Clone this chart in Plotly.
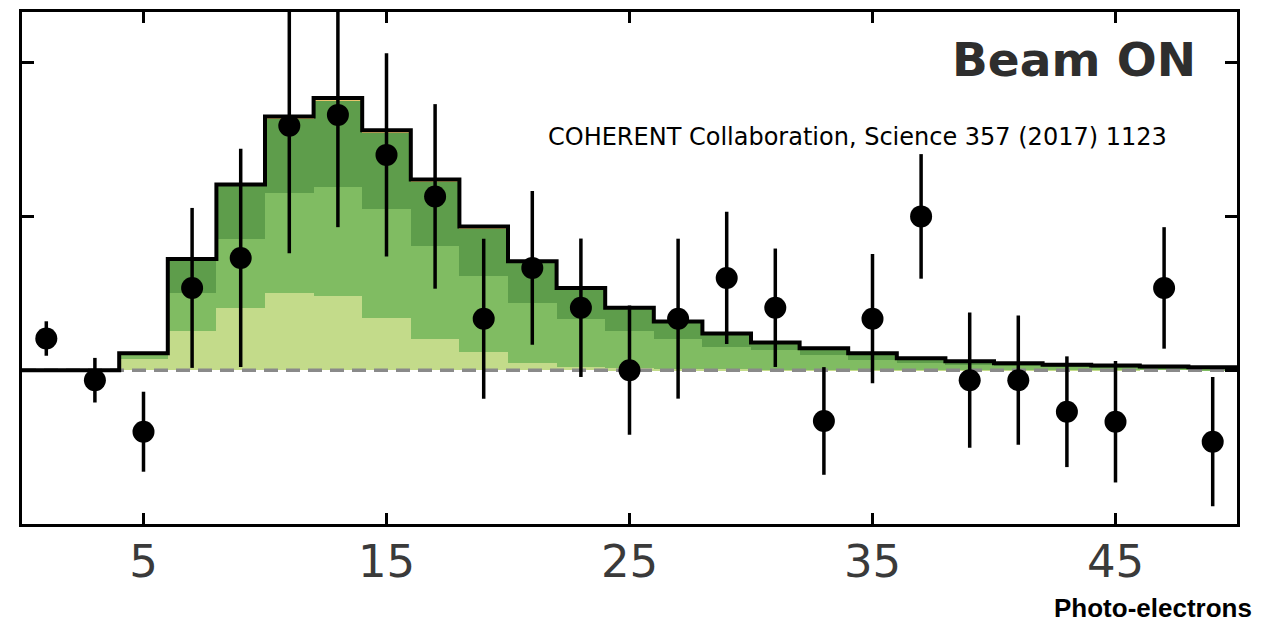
import plotly.graph_objects as go

# Photo-electron bins (width 2), centres 1..49
bin_centers = [1, 3, 5, 7, 9, 11, 13, 15, 17, 19, 21, 23, 25, 27, 29, 31, 33, 35, 37, 39, 41, 43, 45, 47, 49]
bin_edges = [0, 2, 4, 6, 8, 10, 12, 14, 16, 18, 20, 22, 24, 26, 28, 30, 32, 34, 36, 38, 40, 42, 44, 46, 48, 50]

# Stacked prediction components
comp_light = [0, 0, 0.75, 2.58, 4.06, 5.0, 4.84, 3.42, 2.06, 1.16, 0.45, 0.2, 0.12, 0.08, 0.05,
              0.04, 0.03, 0.02, 0.02, 0.01, 0.01, 0.01, 0.01, 0.0, 0.0]
comp_mid = [0, 0, 0.25, 2.45, 4.45, 6.5, 7.06, 7.03, 6.0, 4.97, 3.94, 3.15, 2.46, 1.98, 1.43,
            1.25, 0.94, 0.63, 0.45, 0.35, 0.27, 0.22, 0.18, 0.14, 0.11]
comp_dark = [0, 0, 0.1, 2.2, 3.56, 4.85, 5.6, 5.0, 4.2, 3.1, 2.6, 1.9, 1.4, 1.05, 0.87,
             0.5, 0.45, 0.45, 0.3, 0.22, 0.17, 0.13, 0.11, 0.1, 0.08]
comp_orange = [0, 0, 0, 0, 0, 0.15, 0.2, 0.15, 0.14, 0.12, 0.1, 0.1, 0.08, 0.05, 0.04,
               0.01, 0, 0, 0, 0, 0, 0, 0, 0, 0]

# Beam-on residual counts with statistical errors
obs_counts = [2.06, -0.65, -4.0, 5.35, 7.3, 15.9, 16.6, 14.0, 11.3, 3.35, 6.65, 4.06, 0.0, 3.35, 6.0,
              4.06, -3.3, 3.35, 10.0, -0.65, -0.65, -2.7, -3.35, 5.35, -4.65]
obs_errors = [1.12, 1.45, 2.6, 5.2, 7.1, 8.3, 7.3, 6.6, 6.0, 5.2, 5.0, 4.5, 4.2, 5.2, 4.3,
              3.85, 3.5, 4.2, 4.05, 4.4, 4.2, 3.6, 3.95, 3.95, 4.2]

x_ticks = [5, 15, 25, 35, 45]
y_ticks = [-10, 0, 10, 20]

fig = go.Figure()

layers = [
    (comp_light, "#c3db8a"),
    (comp_mid, "#80bc62"),
    (comp_dark, "#5e9d4b"),
    (comp_orange, "#e8c46c"),
]
for vals, col in layers:
    fig.add_trace(go.Bar(
        x=bin_centers, y=vals, width=2,
        marker=dict(color=col, line=dict(width=0)),
        showlegend=False, hoverinfo="skip",
    ))

# dashed zero baseline
fig.add_trace(go.Scatter(
    x=[bin_edges[0], bin_edges[-1]], y=[0, 0], mode="lines",
    line=dict(color="#8a8a8a", width=3.5, dash="14px,8px"),
    showlegend=False, hoverinfo="skip",
))

# total prediction as a step outline
totals = [a + b + c + d for a, b, c, d in zip(comp_light, comp_mid, comp_dark, comp_orange)]
fig.add_trace(go.Scatter(
    x=bin_edges, y=totals + [totals[-1]], mode="lines",
    line=dict(color="black", width=4, shape="hv"),
    showlegend=False, hoverinfo="skip",
))

# data points
fig.add_trace(go.Scatter(
    x=bin_centers, y=obs_counts, mode="markers",
    marker=dict(color="black", size=22),
    error_y=dict(type="data", array=obs_errors, thickness=3.5, width=0, color="black"),
    showlegend=False, hoverinfo="skip",
))

fig.add_annotation(
    x=43.3, y=20.2, xref="x", yref="y", text="<b>Beam ON</b>", showarrow=False,
    font=dict(family="DejaVu Sans", size=47, color="#2e2e2e"),
    xanchor="center", yanchor="middle",
)
fig.add_annotation(
    x=857, y=135, xref="paper", yref="paper", text="COHERENT Collaboration, Science 357 (2017) 1123",
    showarrow=False, font=dict(family="DejaVu Sans", size=24, color="black"),
    xanchor="center", yanchor="middle",
)
fig.add_annotation(
    x=1254, y=608, text="<b>Photo-electrons</b>", showarrow=False,
    font=dict(family="Liberation Sans", size=26, color="black"),
    xanchor="right", yanchor="middle",
)

W, H = 1265, 622
ml, mr, mt, mb = 22, 28, 9, 98
pw, ph = W - ml - mr, H - mt - mb


def px_to_paper(ann):
    # convert pixel positions to paper coordinates
    ann.x = (ann.x - ml) / pw
    ann.y = 1 - (ann.y - mt) / ph
    ann.xref = "paper"
    ann.yref = "paper"


for a in fig.layout.annotations[1:]:
    px_to_paper(a)

fig.update_layout(
    width=W, height=H,
    margin=dict(l=ml, r=mr, t=mt, b=mb),
    paper_bgcolor="white", plot_bgcolor="white",
    barmode="stack", bargap=0,
    showlegend=False,
)
fig.update_xaxes(
    range=[0, 50], tickvals=x_ticks, ticktext=[str(v) for v in x_ticks],
    ticks="inside", ticklen=11, tickwidth=2.5, tickcolor="black",
    showline=True, linecolor="black", linewidth=3, mirror="allticks",
    showgrid=False, zeroline=False,
    tickfont=dict(family="DejaVu Sans", size=45, color="#3a3a3a"),
    ticklabelstandoff=-4,
)
fig.update_yaxes(
    range=[-10, 23.29], tickvals=y_ticks, showticklabels=False,
    ticks="inside", ticklen=12, tickwidth=2.5, tickcolor="black",
    showline=True, linecolor="black", linewidth=3, mirror="allticks",
    showgrid=False, zeroline=False,
)

fig.write_html("out.html")
